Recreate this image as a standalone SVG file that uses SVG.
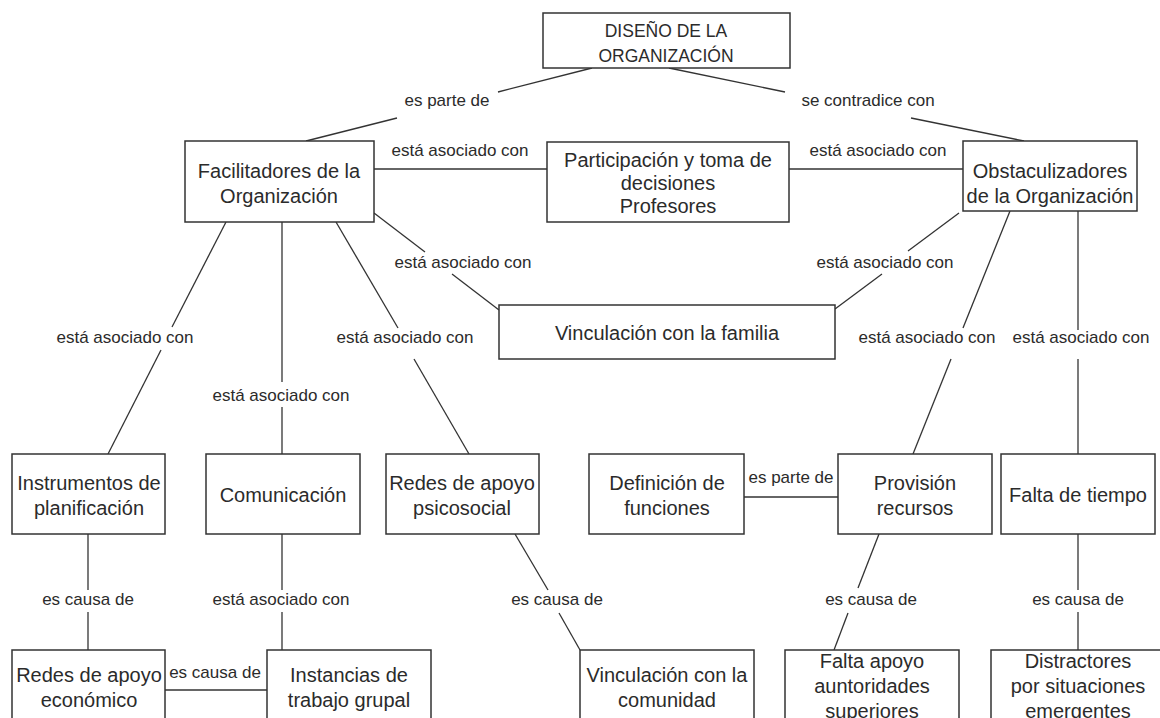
<svg xmlns="http://www.w3.org/2000/svg" width="1160" height="718" viewBox="0 0 1160 718">
<style>
.box{fill:#fff;stroke:#333;stroke-width:1.5}
.t{font-family:"Liberation Sans",Arial,sans-serif;font-size:20px;fill:#2b2b2b;text-anchor:middle}
.cap{font-size:17.5px}
.l{font-family:"Liberation Sans",Arial,sans-serif;font-size:17px;fill:#2b2b2b;text-anchor:middle}
.c line{stroke:#333;stroke-width:1.3;fill:none}
</style>
<rect width="1160" height="718" fill="#fff"/>
<g id="connectors" class="c">
<line x1="592" y1="68" x2="498" y2="92"/><line x1="397" y1="118" x2="306" y2="141"/>
<line x1="669" y1="68" x2="785" y2="92"/><line x1="911" y1="118" x2="1024" y2="141"/>
<line x1="374" y1="169" x2="547" y2="169"/>
<line x1="789" y1="169" x2="963" y2="169"/>
<line x1="374" y1="213" x2="425" y2="252"/><line x1="452" y1="274" x2="499" y2="310"/>
<line x1="959" y1="213" x2="908" y2="251"/><line x1="882" y1="274" x2="835" y2="309"/>
<line x1="226" y1="222" x2="172" y2="327"/><line x1="161" y1="350" x2="108" y2="454"/>
<line x1="282" y1="222" x2="282" y2="382"/><line x1="282" y1="407" x2="282" y2="454"/>
<line x1="336" y1="222" x2="398" y2="328"/><line x1="414" y1="359" x2="469" y2="454"/>
<line x1="1010" y1="211" x2="963" y2="328"/><line x1="951" y1="359" x2="913" y2="454"/>
<line x1="1078" y1="211" x2="1078" y2="330"/><line x1="1078" y1="359" x2="1078" y2="454"/>
<line x1="88" y1="534" x2="88" y2="590"/><line x1="88" y1="612" x2="88" y2="650"/>
<line x1="282" y1="534" x2="282" y2="590"/><line x1="282" y1="612" x2="282" y2="650"/>
<line x1="515" y1="534" x2="548" y2="590"/><line x1="559" y1="613" x2="580" y2="650"/>
<line x1="165" y1="690" x2="267" y2="690"/>
<line x1="744" y1="497" x2="838" y2="497"/>
<line x1="879" y1="534" x2="858" y2="588"/><line x1="848" y1="613" x2="834" y2="650"/>
<line x1="1078" y1="534" x2="1078" y2="590"/><line x1="1078" y1="612" x2="1078" y2="650"/>
</g>
<g id="labels">
<text class="l" x="447" y="106">es parte de</text>
<text class="l" x="868" y="106">se contradice con</text>
<text class="l" x="460" y="156">está asociado con</text>
<text class="l" x="878" y="156">está asociado con</text>
<text class="l" x="463" y="268">está asociado con</text>
<text class="l" x="885" y="268">está asociado con</text>
<text class="l" x="125" y="343">está asociado con</text>
<text class="l" x="405" y="343">está asociado con</text>
<text class="l" x="927" y="343">está asociado con</text>
<text class="l" x="1081" y="343">está asociado con</text>
<text class="l" x="281" y="401">está asociado con</text>
<text class="l" x="791" y="483">es parte de</text>
<text class="l" x="88" y="605">es causa de</text>
<text class="l" x="281" y="605">está asociado con</text>
<text class="l" x="557" y="605">es causa de</text>
<text class="l" x="871" y="605">es causa de</text>
<text class="l" x="1078" y="605">es causa de</text>
<text class="l" x="215" y="678">es causa de</text>
</g>
<g id="n-diseno"><rect class="box" x="543" y="13" width="247" height="55"/><text class="t cap" x="666" y="37">DISEÑO DE LA</text><text class="t cap" x="666" y="62">ORGANIZACIÓN</text></g>
<g id="n-facilitadores"><rect class="box" x="185" y="141" width="189" height="81"/><text class="t" x="279" y="178">Facilitadores de la</text><text class="t" x="279" y="203">Organización</text></g>
<g id="n-participacion"><rect class="box" x="547" y="142" width="242" height="80"/><text class="t" x="668" y="167">Participación y toma de</text><text class="t" x="668" y="190">decisiones</text><text class="t" x="668" y="213">Profesores</text></g>
<g id="n-obstaculizadores"><rect class="box" x="963" y="141" width="174" height="70"/><text class="t" x="1050" y="178">Obstaculizadores</text><text class="t" x="1050" y="203">de la Organización</text></g>
<g id="n-familia"><rect class="box" x="499" y="305" width="336" height="54"/><text class="t" x="667" y="340">Vinculación con la familia</text></g>
<g id="n-instrumentos"><rect class="box" x="12" y="454" width="153" height="80"/><text class="t" x="89" y="490">Instrumentos de</text><text class="t" x="89" y="515">planificación</text></g>
<g id="n-comunicacion"><rect class="box" x="206" y="454" width="154" height="80"/><text class="t" x="283" y="502">Comunicación</text></g>
<g id="n-psicosocial"><rect class="box" x="386" y="454" width="153" height="80"/><text class="t" x="462" y="490">Redes de apoyo</text><text class="t" x="462" y="515">psicosocial</text></g>
<g id="n-definicion"><rect class="box" x="589" y="454" width="155" height="80"/><text class="t" x="667" y="490">Definición de</text><text class="t" x="667" y="515">funciones</text></g>
<g id="n-provision"><rect class="box" x="838" y="454" width="154" height="80"/><text class="t" x="915" y="490">Provisión</text><text class="t" x="915" y="515">recursos</text></g>
<g id="n-tiempo"><rect class="box" x="1001" y="454" width="154" height="80"/><text class="t" x="1078" y="502">Falta de tiempo</text></g>
<g id="n-economico"><rect class="box" x="12" y="650" width="153" height="80"/><text class="t" x="89" y="682">Redes de apoyo</text><text class="t" x="89" y="707">económico</text></g>
<g id="n-instancias"><rect class="box" x="267" y="650" width="164" height="80"/><text class="t" x="349" y="682">Instancias de</text><text class="t" x="349" y="707">trabajo grupal</text></g>
<g id="n-comunidad"><rect class="box" x="580" y="650" width="174" height="80"/><text class="t" x="667" y="682">Vinculación con la</text><text class="t" x="667" y="707">comunidad</text></g>
<g id="n-apoyo"><rect class="box" x="785" y="650" width="174" height="80"/><text class="t" x="872" y="668">Falta apoyo</text><text class="t" x="872" y="693">auntoridades</text><text class="t" x="872" y="718">superiores</text></g>
<g id="n-distractores"><rect class="box" x="991" y="650" width="174" height="80"/><text class="t" x="1078" y="668">Distractores</text><text class="t" x="1078" y="693">por situaciones</text><text class="t" x="1078" y="718">emergentes</text></g>
</svg>
